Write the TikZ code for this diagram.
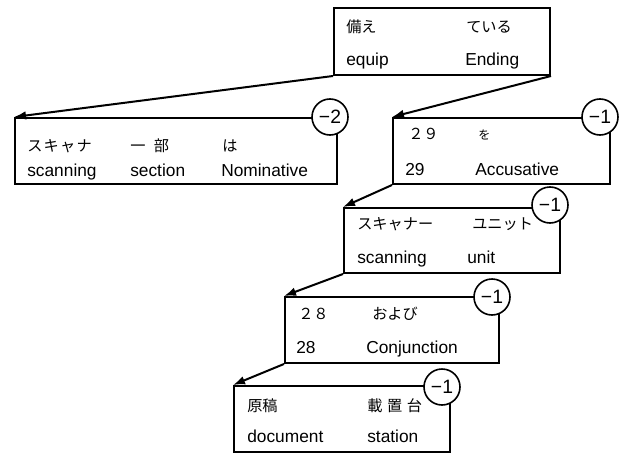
\documentclass[tikz,border=0pt]{standalone}
\usepackage{fontspec}
\setmainfont{Liberation Sans}
\newfontfamily\jp{Noto Sans CJK JP}
\usetikzlibrary{arrows.meta}
\begin{document}
\begin{tikzpicture}[x=0.75pt,y=-0.75pt,
  box/.style={draw,line width=1.5pt,rectangle,anchor=north west,inner sep=0pt},
  num/.style={draw,line width=1.2pt,circle,fill=white,minimum size=36*0.75pt,inner sep=0pt,font=\fontsize{14.5pt}{16pt}\selectfont},
  lat/.style={anchor=base west,inner sep=0pt,font=\fontsize{13pt}{15pt}\selectfont},
  jpt/.style={anchor=base west,inner sep=0pt,font=\jp\fontsize{11.4pt}{13pt}\selectfont},
  link/.style={line width=1.5pt,-{Latex[length=9pt,width=6.5pt]}}]
\useasboundingbox (0,0) rectangle (624,453);
% boxes
\node[box,minimum width=216*0.75pt,minimum height=67*0.75pt] (b1) at (333,7) {};
\node[box,minimum width=322*0.75pt,minimum height=66*0.75pt] (b2) at (14,117) {};
\node[box,minimum width=217*0.75pt,minimum height=66*0.75pt] (b3) at (392,117) {};
\node[box,minimum width=216*0.75pt,minimum height=65*0.75pt] (b4) at (343,207) {};
\node[box,minimum width=214*0.75pt,minimum height=66*0.75pt] (b5) at (284,296) {};
\node[box,minimum width=216*0.75pt,minimum height=66*0.75pt] (b6) at (233,385) {};
% circles
\node[num] (c2) at (330,117) {−2};
\node[num] (c3) at (600,117) {−1};
\node[num] (c4) at (550,205) {−1};
\node[num] (c5) at (492,297) {−1};
\node[num] (c6) at (442,387) {−1};
% texts box 1
\node[jpt] (t11) at (346,33) {備え};
\node[jpt] (t12) at (466,33) {ている};
\node[lat] (t13) at (346,65) {equip};
\node[lat] (t14) at (465,65) {Ending};
% box 2
\node[jpt] (t21) at (27,151) {ス\hspace{0.08em}キ\hspace{0.08em}ャ\hspace{0.08em}ナ};
\node[jpt] (t22) at (130,151) {一\hspace{0.55em}部};
\node[jpt] (t23) at (222,151) {は};
\node[lat] (t24) at (27,176) {scanning};
\node[lat] (t25) at (130,176) {section};
\node[lat] (t26) at (221,176) {Nominative};
% box 3
\node[jpt] (t31) at (408,139) {２９};
\node[jpt,font=\jp\fontsize{9pt}{11pt}\selectfont] (t32) at (478,139) {を};
\node[lat] (t33) at (405,175) {29};
\node[lat] (t34) at (475,175) {Accusative};
% box 4
\node[jpt] (t41) at (357,229) {スキャナー};
\node[jpt] (t42) at (472,229) {ユニット};
\node[lat] (t43) at (357,263) {scanning};
\node[lat] (t44) at (467,263) {unit};
% box 5
\node[jpt] (t51) at (298,319) {２８};
\node[jpt] (t52) at (372,319) {および};
\node[lat] (t53) at (296,353) {28};
\node[lat] (t54) at (366,353) {Conjunction};
% box 6
\node[jpt] (t61) at (247,411) {原稿};
\node[jpt] (t62) at (367,411) {載\hspace{0.3em}置\hspace{0.3em}台};
\node[lat] (t63) at (247,442) {document};
\node[lat] (t64) at (367,442) {station};
% links
\draw[link] (b1.south west) -- (b2.north west);
\draw[link] (b1.south east) -- (b3.north west);
\draw[link] (b3.south west) -- (b4.north west);
\draw[link] (b4.south west) -- (b5.north west);
\draw[link] (b5.south west) -- (b6.north west);
\end{tikzpicture}
\end{document}
